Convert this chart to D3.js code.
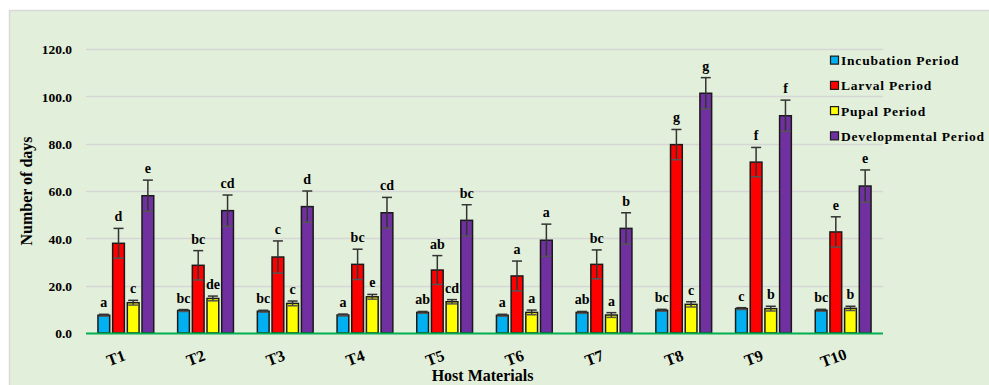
<!DOCTYPE html>
<html>
<head>
<meta charset="utf-8">
<script src="https://cdn.jsdelivr.net/npm/d3@7"></script>
<style>
  body { margin: 0; background: #fff; }
  text { font-family: "Liberation Serif", "Times New Roman", serif; font-weight: bold; fill: #000; }
</style>
</head>
<body>
<div id="chart"></div>
<script>
const categories = ['T1', 'T2', 'T3', 'T4', 'T5', 'T6', 'T7', 'T8', 'T9', 'T10'];
const seriesNames = ['Incubation Period', 'Larval Period', 'Pupal Period', 'Developmental Period'];
const seriesColors = ['#00b0f0', '#ff0000', '#ffff00', '#7030a0'];

const incubation = [7.5, 9.5, 9.2, 7.6, 8.7, 7.5, 8.7, 9.6, 10.3, 9.6];
const larval = [37.9, 28.6, 32.1, 29.0, 26.6, 24.1, 29.0, 79.6, 72.2, 42.7];
const pupal = [12.8, 14.6, 12.5, 15.3, 13.2, 8.7, 7.6, 12.1, 10.3, 10.4];
const developmental = [58.0, 51.7, 53.4, 50.8, 47.6, 39.2, 44.2, 101.3, 91.8, 62.1];

const incubationErr = [0.4, 0.4, 0.4, 0.4, 0.4, 0.4, 0.4, 0.4, 0.4, 0.4];
const larvalErr = [6.3, 6.2, 6.8, 6.4, 6.1, 6.3, 6.1, 6.4, 6.2, 6.4];
const pupalErr = [1.0, 1.0, 1.0, 1.0, 0.9, 1.0, 1.0, 1.1, 1.0, 0.9];
const developmentalErr = [6.6, 6.6, 6.6, 6.5, 6.6, 6.8, 6.6, 6.6, 6.6, 6.8];

const incubationLetters = ['a', 'bc', 'bc', 'a', 'ab', 'a', 'ab', 'bc', 'c', 'bc'];
const larvalLetters = ['d', 'bc', 'c', 'bc', 'ab', 'a', 'bc', 'g', 'f', 'e'];
const pupalLetters = ['c', 'de', 'c', 'e', 'cd', 'a', 'a', 'c', 'b', 'b'];
const developmentalLetters = ['e', 'cd', 'd', 'cd', 'bc', 'a', 'b', 'g', 'f', 'e'];

const yTicks = [0, 20, 40, 60, 80, 100, 120];

const values = [incubation, larval, pupal, developmental];
const errors = [incubationErr, larvalErr, pupalErr, developmentalErr];
const letters = [incubationLetters, larvalLetters, pupalLetters, developmentalLetters];

const data = [];
categories.forEach((c, i) => {
  seriesNames.forEach((s, j) => {
    data.push({ cat: c, series: s, idx: j, value: values[j][i], err: errors[j][i], letter: letters[j][i] });
  });
});

const width = 989;
const height = 385;
const plot = { left: 86, right: 883, top: 49, bottom: 333 };

const svg = d3.select('#chart')
  .append('svg')
  .attr('width', width)
  .attr('height', height);

// panel background
svg.append('rect')
  .attr('x', 9.5)
  .attr('y', 10.5)
  .attr('width', width)
  .attr('height', height)
  .attr('fill', '#e2efda')
  .attr('stroke', '#d9d9d9')
  .attr('stroke-width', 1.5);

const x0 = d3.scaleBand()
  .domain(categories)
  .range([plot.left, plot.right])
  .paddingInner(0.3)
  .paddingOuter(0.15);

const x1 = d3.scaleBand()
  .domain(seriesNames)
  .range([0, x0.bandwidth()])
  .paddingInner(0.2);

const y = d3.scaleLinear()
  .domain([0, 120])
  .range([plot.bottom, plot.top]);

// gridlines
svg.append('g')
  .selectAll('line')
  .data(yTicks.filter((t) => t > 0))
  .enter()
  .append('line')
  .attr('x1', plot.left)
  .attr('x2', plot.right)
  .attr('y1', (d) => Math.round(y(d)) + 0.5)
  .attr('y2', (d) => Math.round(y(d)) + 0.5)
  .attr('stroke', '#d6d6d6')
  .attr('stroke-width', 1.5);

// y axis labels
const yAxis = svg.append('g')
  .attr('transform', `translate(${plot.left - 14},0)`)
  .call(d3.axisLeft(y).tickValues(yTicks).tickFormat(d3.format('.1f')).tickSize(0).tickPadding(0));
yAxis.select('.domain').remove();
yAxis.selectAll('text')
  .style('font-size', '13.5px')
  .style('font-family', '"Liberation Serif", serif')
  .style('font-weight', 'bold')
  .attr('dy', '0.35em');

// bars
const groups = svg.append('g')
  .selectAll('g')
  .data(data)
  .enter()
  .append('g')
  .attr('transform', (d) => `translate(${x0(d.cat) + x1(d.series)},0)`);

groups.append('rect')
  .attr('x', 0)
  .attr('y', (d) => y(d.value))
  .attr('width', x1.bandwidth())
  .attr('height', (d) => y(0) - y(d.value))
  .attr('fill', (d) => seriesColors[d.idx])
  .attr('stroke', '#1a1a1a')
  .attr('stroke-width', 1.5);

// error bars
const bw = x1.bandwidth();
groups.append('line')
  .attr('x1', bw / 2)
  .attr('x2', bw / 2)
  .attr('y1', (d) => y(d.value - d.err))
  .attr('y2', (d) => y(d.value + d.err))
  .attr('stroke', '#333')
  .attr('stroke-width', 1.5);

groups.append('line')
  .attr('x1', bw / 2 - 5)
  .attr('x2', bw / 2 + 5)
  .attr('y1', (d) => y(d.value + d.err))
  .attr('y2', (d) => y(d.value + d.err))
  .attr('stroke', '#333')
  .attr('stroke-width', 1.5);

groups.append('line')
  .attr('x1', bw / 2 - 5)
  .attr('x2', bw / 2 + 5)
  .attr('y1', (d) => y(d.value - d.err))
  .attr('y2', (d) => y(d.value - d.err))
  .attr('stroke', '#555')
  .attr('stroke-width', 1.5);

// significance letters
groups.append('text')
  .attr('x', bw / 2)
  .attr('y', (d) => y(d.value + d.err) - 7)
  .attr('text-anchor', 'middle')
  .style('font-size', '14px')
  .text((d) => d.letter);

// x axis baseline
svg.append('line')
  .attr('x1', plot.left)
  .attr('x2', plot.right)
  .attr('y1', plot.bottom + 0.5)
  .attr('y2', plot.bottom + 0.5)
  .attr('stroke', '#00b050')
  .attr('stroke-width', 2);

// category labels
svg.append('g')
  .selectAll('text')
  .data(categories)
  .enter()
  .append('text')
  .attr('transform', (d) => `translate(${x0(d) + x0.bandwidth() / 2 - 8},${plot.bottom + 30}) rotate(-20)`)
  .attr('text-anchor', 'middle')
  .style('font-size', '16px')
  .text((d) => d);

// axis titles
svg.append('text')
  .attr('x', (plot.left + plot.right) / 2 - 2)
  .attr('y', 381)
  .attr('text-anchor', 'middle')
  .style('font-size', '16px')
  .text('Host Materials');

svg.append('text')
  .attr('transform', `translate(32,${191}) rotate(-90)`)
  .attr('text-anchor', 'middle')
  .style('font-size', '16px')
  .text('Number of days');

// legend
const legend = svg.append('g')
  .attr('transform', 'translate(830,0)');

const legendY = d3.scaleBand()
  .domain(seriesNames)
  .range([48, 149]);

const items = legend.selectAll('g')
  .data(seriesNames)
  .enter()
  .append('g')
  .attr('transform', (d) => `translate(0,${legendY(d) + legendY.bandwidth() / 2})`);

items.append('rect')
  .attr('x', 0.5)
  .attr('y', -4.5)
  .attr('width', 8)
  .attr('height', 8)
  .attr('fill', (d, i) => seriesColors[i])
  .attr('stroke', '#1a1a1a')
  .attr('stroke-width', 1.2);

items.append('text')
  .attr('x', 11)
  .attr('y', 4.5)
  .style('font-size', '13.5px')
  .style('letter-spacing', '0.8px')
  .text((d) => d);
</script>
</body>
</html>
